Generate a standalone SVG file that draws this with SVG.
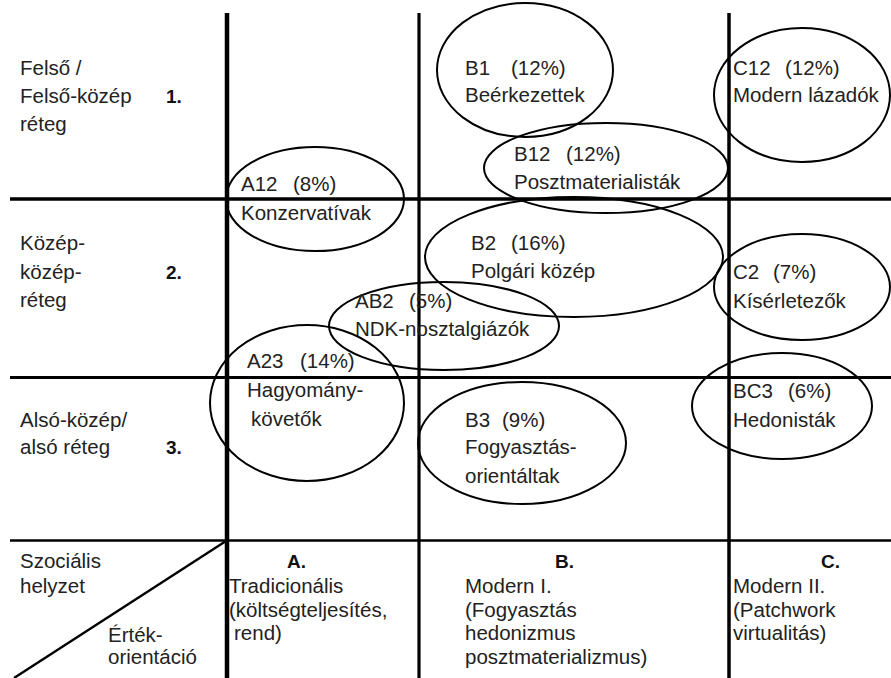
<svg xmlns="http://www.w3.org/2000/svg" width="891" height="678" viewBox="0 0 891 678">
<style>
text{font-family:"Liberation Sans",Arial,sans-serif;font-size:20.5px;fill:#222}
.b{font-weight:bold;font-size:19px;fill:#111}
.grid{stroke:#000;fill:none}
.el{stroke:#000;stroke-width:2;fill:none}
</style>
<rect width="891" height="678" fill="#fff"/>
<g id="grid" class="grid">
<line x1="227" y1="13" x2="227" y2="678" stroke-width="4.5"/>
<line x1="419" y1="13" x2="419" y2="678" stroke-width="3.2"/>
<line x1="729" y1="13" x2="729" y2="678" stroke-width="3.5"/>
<line x1="10" y1="199" x2="891" y2="199" stroke-width="3.5"/>
<line x1="10" y1="377.5" x2="891" y2="377.5" stroke-width="3.2"/>
<line x1="10" y1="540.5" x2="891" y2="540.5" stroke-width="2.6"/>
<line x1="226" y1="541" x2="14" y2="678" stroke-width="2.4"/>
</g>
<g id="row-labels">
<text x="20" y="75">Felső /</text>
<text x="20" y="103">Felső-közép</text>
<text x="20" y="131">réteg</text>
<text class="b" x="166" y="103">1.</text>
<text x="20" y="250">Közép-</text>
<text x="20" y="279">közép-</text>
<text x="20" y="307">réteg</text>
<text class="b" x="166" y="279">2.</text>
<text x="20" y="427">Alsó-közép/</text>
<text x="20" y="454">alsó réteg</text>
<text class="b" x="166" y="454">3.</text>
<text x="20" y="568">Szociális</text>
<text x="20" y="593">helyzet</text>
<text x="108" y="642">Érték-</text>
<text x="108" y="664">orientáció</text>
</g>
<g id="col-A">
<text class="b" x="287" y="568">A.</text>
<text x="229" y="593">Tradicionális</text>
<text x="229" y="617">(költségteljesítés,</text>
<text x="234" y="640">rend)</text>
</g>
<g id="col-B">
<text class="b" x="555" y="568">B.</text>
<text x="465" y="593">Modern I.</text>
<text x="465" y="617">(Fogyasztás</text>
<text x="465" y="640">hedonizmus</text>
<text x="465" y="664">posztmaterializmus)</text>
</g>
<g id="col-C">
<text class="b" x="821" y="568">C.</text>
<text x="733" y="593">Modern II.</text>
<text x="733" y="617">(Patchwork</text>
<text x="733" y="640">virtualitás)</text>
</g>
<g id="A12"><ellipse class="el" cx="315" cy="199" rx="89" ry="52"/><text x="241" y="191">A12 <tspan x="293">(8%)</tspan></text><text x="241" y="220">Konzervatívak</text></g>
<g id="B1"><ellipse class="el" cx="525" cy="70" rx="88" ry="67"/><text x="465" y="75">B1 <tspan x="511">(12%)</tspan></text><text x="465" y="102">Beérkezettek</text></g>
<g id="B12"><ellipse class="el" cx="606" cy="168" rx="122" ry="45"/><text x="514" y="161">B12 <tspan x="566">(12%)</tspan></text><text x="514" y="189">Posztmaterialisták</text></g>
<g id="C12"><ellipse class="el" cx="802" cy="95" rx="88" ry="67"/><text x="733" y="75">C12 <tspan x="785">(12%)</tspan></text><text x="733" y="102">Modern lázadók</text></g>
<g id="B2"><ellipse class="el" cx="574" cy="257" rx="149" ry="60"/><text x="471" y="250">B2 <tspan x="511">(16%)</tspan></text><text x="471" y="278">Polgári közép</text></g>
<g id="C2"><ellipse class="el" cx="802" cy="287" rx="88" ry="53"/><text x="733" y="279">C2 <tspan x="773">(7%)</tspan></text><text x="733" y="308">Kísérletezők</text></g>
<g id="AB2"><ellipse class="el" cx="444" cy="326" rx="115" ry="44"/><text x="355" y="308">AB2 <tspan x="409">(5%)</tspan></text><text x="355" y="336">NDK-nosztalgiázók</text></g>
<g id="A23"><ellipse class="el" cx="307" cy="403" rx="97" ry="78"/><text x="247" y="368">A23 <tspan x="300">(14%)</tspan></text><text x="247" y="397">Hagyomány-</text><text x="251" y="426">követők</text></g>
<g id="B3"><ellipse class="el" cx="522" cy="443" rx="104" ry="61"/><text x="465" y="427">B3 <tspan x="502">(9%)</tspan></text><text x="465" y="454">Fogyasztás-</text><text x="465" y="483">orientáltak</text></g>
<g id="BC3"><ellipse class="el" cx="782" cy="406" rx="90" ry="53"/><text x="733" y="398">BC3 <tspan x="788">(6%)</tspan></text><text x="733" y="427">Hedonisták</text></g>
</svg>
